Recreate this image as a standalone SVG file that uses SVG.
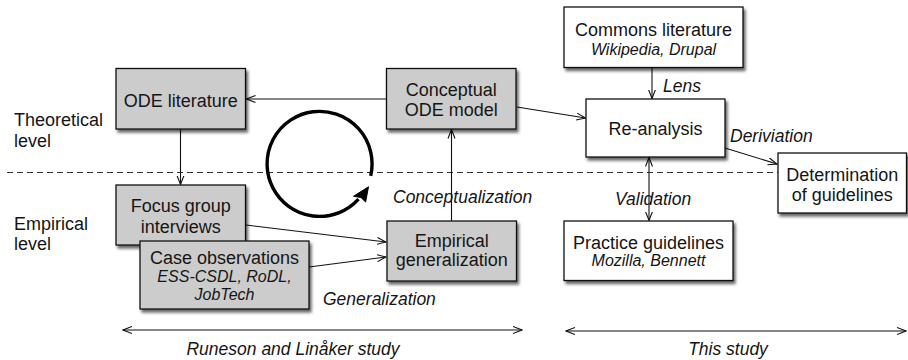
<svg xmlns="http://www.w3.org/2000/svg" width="908" height="360" viewBox="0 0 908 360">
<defs>
<style>
text{font-family:"Liberation Sans",Arial,Helvetica,sans-serif;fill:#151515}
.t{font-size:18px}
.s{font-size:16px;font-style:italic}
.l{font-size:17.5px;font-style:italic}
.m{text-anchor:middle}
.box{stroke:#111;stroke-width:1.3;filter:url(#sh)}
.g{fill:#cccccc}
.w{fill:#ffffff}
.c{fill:none;stroke:#111;stroke-width:1.1}
</style>
<filter id="sh" x="-10%" y="-10%" width="125%" height="130%">
<feDropShadow dx="2" dy="3" stdDeviation="1.4" flood-color="#000" flood-opacity="0.6"/>
</filter>
<marker id="a" markerUnits="userSpaceOnUse" markerWidth="10" markerHeight="9" refX="9" refY="4" orient="auto-start-reverse" viewBox="0 0 10 8">
<path d="M0,0.5 L9,4 L0,7.5" fill="none" stroke="#111" stroke-width="1.1"/>
</marker>
</defs>
<rect width="908" height="360" fill="#fff"/>
<line x1="7" y1="172.5" x2="778" y2="172.5" stroke="#333" stroke-width="1.1" stroke-dasharray="6 4"/>
<text class="t" x="14" y="126">Theoretical</text>
<text class="t" x="14" y="146.5">level</text>
<text class="t" x="14" y="229.5">Empirical</text>
<text class="t" x="14" y="250">level</text>
<g id="cycle">
<path d="M370.7,175.8 A52.5,52.5 0 1 0 358.5,199.1" fill="none" stroke="#000" stroke-width="3.4"/>
<path d="M368.5,186.8 L365.6,202 L361,197.6 L353.6,196.2 Z" fill="#000" stroke="#000" stroke-width="1" stroke-linejoin="round"/>
</g>
<g id="connectors">
<path class="c" d="M386,99 L246.5,99" marker-end="url(#a)"/>
<path class="c" d="M180.5,129 L180.5,184.5" marker-end="url(#a)"/>
<path class="c" d="M246,225 L386,242" marker-end="url(#a)"/>
<path class="c" d="M309,267 L386,257" marker-end="url(#a)"/>
<path class="c" d="M451.5,221 L451.5,129.5" marker-end="url(#a)"/>
<path class="c" d="M517,107 L585.5,118" marker-end="url(#a)"/>
<path class="c" d="M652,67.5 L652,98.5" marker-end="url(#a)"/>
<path class="c" d="M725,148 L777,164" marker-end="url(#a)"/>
<path class="c" d="M649,157.5 L649,220.5" marker-start="url(#a)" marker-end="url(#a)"/>
<path class="c" d="M123,330 L522,330" marker-start="url(#a)" marker-end="url(#a)"/>
<path class="c" d="M566,331 L906,331" marker-start="url(#a)" marker-end="url(#a)"/>
<text class="l" x="663" y="92">Lens</text>
<text class="l" x="730" y="142">Deriviation</text>
<text class="l" x="615" y="205">Validation</text>
<text class="l" x="393" y="203">Conceptualization</text>
<text class="l" x="323" y="305">Generalization</text>
<text class="l m" x="293" y="355">Runeson and Linåker study</text>
<text class="l m" x="728" y="355">This study</text>
</g>
<g id="ode-literature">
<rect class="box g" x="116" y="68.5" width="129.5" height="60.5"/>
<text class="t m" x="180.7" y="106.5">ODE literature</text>
</g>
<g id="conceptual-model">
<rect class="box g" x="386.5" y="68.5" width="129.5" height="60.5"/>
<text class="t m" x="451.2" y="96">Conceptual</text>
<text class="t m" x="451.2" y="116">ODE model</text>
</g>
<g id="focus-group">
<rect class="box g" x="116" y="185" width="129.5" height="60"/>
<text class="t m" x="180.7" y="211.5">Focus group</text>
<text class="t m" x="180.7" y="232.5">interviews</text>
</g>
<g id="case-observations">
<rect class="box g" x="140" y="241" width="169" height="68"/>
<text class="t m" x="224.5" y="263.5">Case observations</text>
<text class="s m" x="224.5" y="281.5">ESS-CSDL, RoDL,</text>
<text class="s m" x="224.5" y="300">JobTech</text>
</g>
<g id="empirical-generalization">
<rect class="box g" x="387" y="221" width="129.5" height="60"/>
<text class="t m" x="451.7" y="246.5">Empirical</text>
<text class="t m" x="451.7" y="266">generalization</text>
</g>
<g id="commons-literature">
<rect class="box w" x="564" y="7" width="179" height="60.5"/>
<text class="t m" x="653.5" y="36">Commons literature</text>
<text class="s m" x="653.5" y="55">Wikipedia, Drupal</text>
</g>
<g id="re-analysis">
<rect class="box w" x="586" y="99" width="139" height="58"/>
<text class="t m" x="655.5" y="134.5">Re-analysis</text>
</g>
<g id="determination">
<rect class="box w" x="778" y="153" width="128.5" height="60"/>
<text class="t m" x="842.2" y="181">Determination</text>
<text class="t m" x="842.2" y="200.5">of guidelines</text>
</g>
<g id="practice-guidelines">
<rect class="box w" x="564" y="221" width="169" height="59.5"/>
<text class="t m" x="648.5" y="248.5">Practice guidelines</text>
<text class="s m" x="648.5" y="266">Mozilla, Bennett</text>
</g>
</svg>
